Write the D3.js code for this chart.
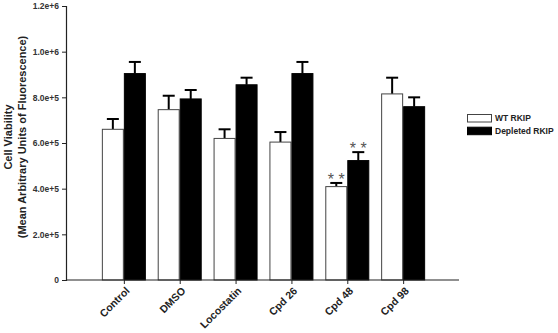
<!DOCTYPE html>
<html>
<head>
<meta charset="utf-8">
<script src="https://cdn.jsdelivr.net/npm/d3@7"></script>
<style>
  body { margin: 0; background: #fff; }
  text { font-family: "Liberation Sans", Arial, sans-serif; font-weight: bold; }
</style>
</head>
<body>
<div id="chart"></div>
<script>
const categories = ["Control", "DMSO", "Locostatin", "Cpd 26", "Cpd 48", "Cpd 98"];
const seriesNames = ["WT RKIP", "Depleted RKIP"];
const wtValues = [660000, 746000, 620000, 604000, 409000, 815000];
const wtErrors = [45000, 61000, 40000, 44000, 16000, 71000];
const depletedValues = [904000, 793000, 855000, 904000, 523000, 759000];
const depletedErrors = [51000, 39000, 31000, 51000, 37000, 41000];
const starred = ["Cpd 48"];
const yTicks = [0, 200000, 400000, 600000, 800000, 1000000, 1200000];
const yTickLabels = ["0", "2.0e+5", "4.0e+5", "6.0e+5", "8.0e+5", "1.0e+6", "1.2e+6"];

const width = 558, height = 333;
const margin = { top: 6, right: 99, bottom: 53, left: 66 };
const barWidth = 22;

const svg = d3.select("#chart")
  .append("svg")
  .attr("width", width)
  .attr("height", height);

const xScale = d3.scalePoint()
  .domain(categories)
  .range([margin.left + 2, width - margin.right])
  .padding(1);

const yScale = d3.scaleLinear()
  .domain([0, 1200000])
  .range([height - margin.bottom, margin.top]);

// series rows built from the arrays above
const series = [
  { name: seriesNames[0], values: wtValues, errors: wtErrors, fill: "#fff", stroke: "#444", offset: -barWidth },
  { name: seriesNames[1], values: depletedValues, errors: depletedErrors, fill: "#000", stroke: "#000", offset: 0 },
];

// error bars (upper only), drawn behind bars
series.forEach((s) => {
  const g = svg.append("g");
  categories.forEach((c, i) => {
    const cx = xScale(c) + s.offset + barWidth / 2;
    const top = yScale(s.values[i] + s.errors[i]);
    g.append("line")
      .attr("x1", cx).attr("x2", cx)
      .attr("y1", yScale(s.values[i])).attr("y2", top)
      .attr("stroke", "#000").attr("stroke-width", 2);
    g.append("line")
      .attr("x1", cx - 6).attr("x2", cx + 6)
      .attr("y1", top).attr("y2", top)
      .attr("stroke", "#000").attr("stroke-width", 2);
  });
});

// bars
series.forEach((s) => {
  svg.append("g")
    .selectAll("rect")
    .data(categories)
    .join("rect")
    .attr("x", (c) => xScale(c) + s.offset + 0.5)
    .attr("y", (c, i) => yScale(s.values[i]))
    .attr("width", barWidth - 1)
    .attr("height", (c, i) => yScale(0) - yScale(s.values[i]))
    .attr("fill", s.fill)
    .attr("stroke", s.stroke)
    .attr("stroke-width", 1);
});

// significance stars
series.forEach((s) => {
  categories.forEach((c, i) => {
    if (!starred.includes(c)) return;
    svg.append("text")
      .attr("x", xScale(c) + s.offset + barWidth / 2)
      .attr("y", yScale(s.values[i] + s.errors[i]) + 2)
      .attr("text-anchor", "middle")
      .attr("font-size", 16)
      .style("font-weight", "normal")
      .attr("fill", "#555")
      .text("* *");
  });
});

// y axis
const yAxis = svg.append("g")
  .attr("transform", "translate(" + margin.left + ",0)")
  .call(d3.axisLeft(yScale).tickValues(yTicks).tickFormat((d, i) => yTickLabels[i]).tickSize(4).tickPadding(3));
yAxis.select(".domain").attr("stroke", "#222").attr("stroke-width", 1.2);
yAxis.selectAll(".tick line").attr("stroke", "#222");
yAxis.selectAll(".tick text").attr("font-size", 8.5).attr("fill", "#333");

// x axis without labels
const xAxis = svg.append("g")
  .attr("transform", "translate(0," + yScale(0) + ")")
  .call(d3.axisBottom(xScale).tickSize(4).tickSizeOuter(0).tickFormat(""));
xAxis.select(".domain").attr("stroke", "#222").attr("stroke-width", 1.2)
  .attr("d", "M" + margin.left + ",0H" + (width - margin.right));
xAxis.selectAll(".tick line").attr("stroke", "#222");

// category labels along -45deg paths
const c45 = Math.SQRT1_2;
const labelLen = 80;
const defs = svg.append("defs");
categories.forEach((d, i) => {
  const ex = xScale(d) + 6.5, ey = yScale(0) + 11.5;
  defs.append("path")
    .attr("id", "xlab" + i)
    .attr("d", "M" + (ex - labelLen * c45) + "," + (ey + labelLen * c45) + "L" + ex + "," + ey);
});
svg.append("g")
  .selectAll("text")
  .data(categories)
  .join("text")
  .attr("font-size", 10.5)
  .attr("fill", "#222")
  .append("textPath")
  .attr("href", (d, i) => "#xlab" + i)
  .attr("startOffset", "100%")
  .attr("text-anchor", "end")
  .text((d) => d);

// y axis title
const yTitle = svg.append("text")
  .attr("transform", "translate(15,137) rotate(-90)")
  .attr("text-anchor", "middle")
  .attr("font-size", 11)
  .attr("fill", "#222");
yTitle.append("tspan").attr("x", 0).attr("dy", "-0.3em").text("Cell Viability");
yTitle.append("tspan").attr("x", 0).attr("dy", "1.3em").text("(Mean Arbitrary Units of Fluorescence)");

// legend
const legend = svg.append("g").attr("transform", "translate(467,114)");
series.forEach((s, i) => {
  legend.append("rect")
    .attr("x", 0.5).attr("y", i * 12.7 + 0.5)
    .attr("width", 24).attr("height", 7.5)
    .attr("fill", s.fill).attr("stroke", s.stroke);
  legend.append("text")
    .attr("x", 28).attr("y", i * 12.7 + 4.5)
    .attr("dy", "0.35em")
    .attr("font-size", 8.5)
    .attr("fill", "#222")
    .text(s.name);
});
</script>
</body>
</html>
